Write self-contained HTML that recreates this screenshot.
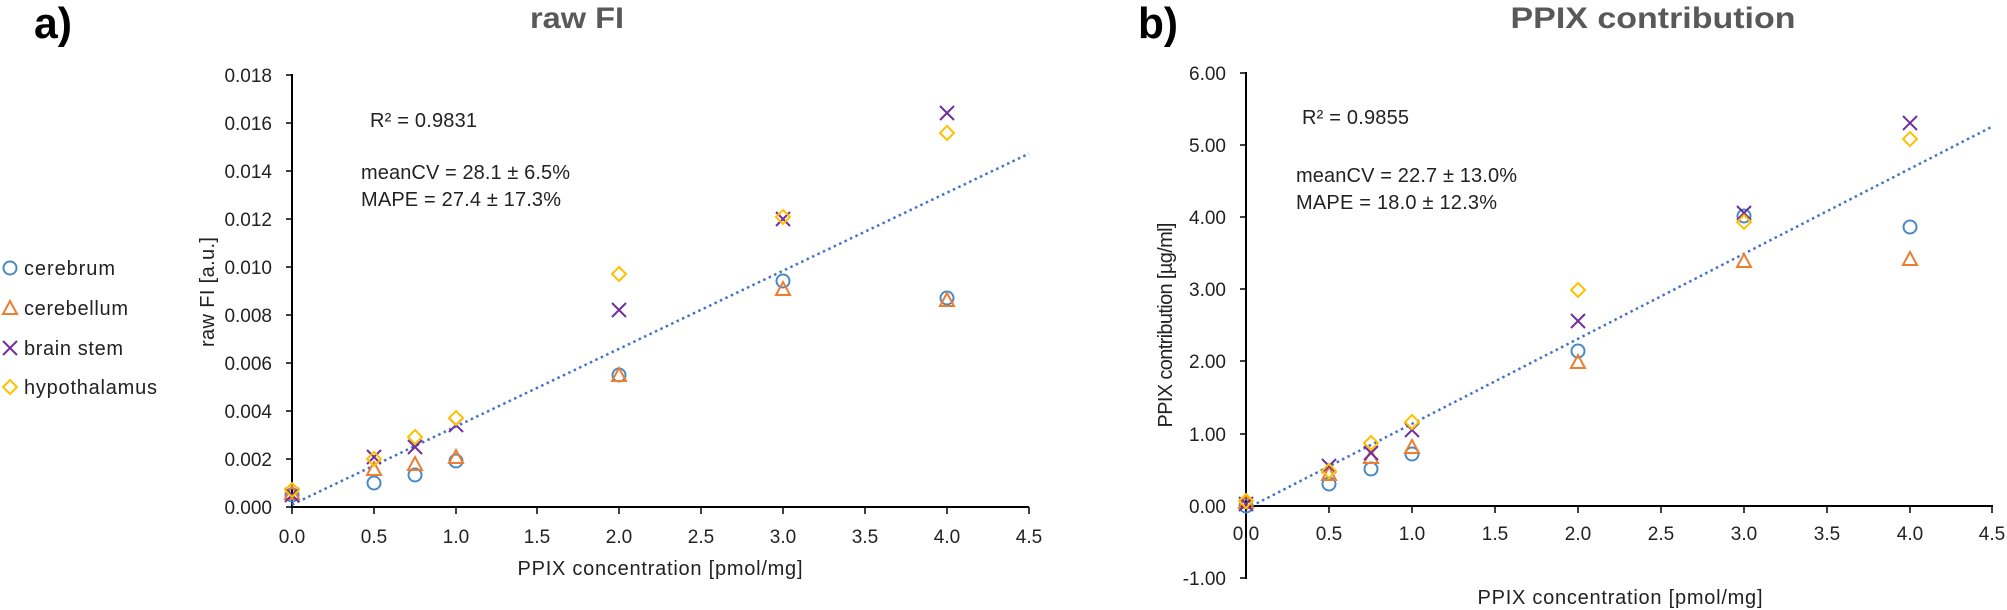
<!DOCTYPE html>
<html><head><meta charset="utf-8"><style>
html,body{margin:0;padding:0;background:#fff;}
svg{display:block;font-family:"Liberation Sans",sans-serif;}
</style></head><body>
<svg width="2007" height="610" viewBox="0 0 2007 610" xmlns="http://www.w3.org/2000/svg">
<defs>
<g id="mC"><circle r="6.5" fill="none" stroke="#4a8ac4" stroke-width="2"/></g>
<g id="mT"><path d="M0,-7 L7,6 L-7,6 Z" fill="none" stroke="#ed7d31" stroke-width="2"/></g>
<g id="mX"><path d="M-7,-7 L7,7 M-7,7 L7,-7" stroke="#7030a0" stroke-width="2" fill="none"/></g>
<g id="mD"><path d="M0,-7 L7,0 L0,7 L-7,0 Z" fill="none" stroke="#ffc000" stroke-width="2"/></g>
</defs>

<text x="34" y="38" font-size="44" font-weight="bold" fill="#000" textLength="38" lengthAdjust="spacingAndGlyphs">a)</text>
<text x="577" y="28" font-size="30" font-weight="bold" fill="#595959" text-anchor="middle" textLength="94" lengthAdjust="spacingAndGlyphs">raw FI</text>

<use href="#mC" x="10" y="268"/><text x="24" y="275" font-size="20" textLength="91" fill="#222">cerebrum</text>
<use href="#mT" x="10" y="308"/><text x="24" y="315" font-size="20" textLength="104" fill="#222">cerebellum</text>
<use href="#mX" x="10" y="348"/><text x="24" y="355" font-size="20" textLength="99" fill="#222">brain stem</text>
<use href="#mD" x="10" y="387"/><text x="24" y="394" font-size="20" textLength="133" fill="#222">hypothalamus</text>

<g stroke="#000" stroke-width="2">
<line x1="292" y1="74" x2="292" y2="507"/>
<line x1="292" y1="507" x2="1029" y2="507"/>
</g>
<g stroke="#000" stroke-width="1.5">
<line x1="286" y1="75" x2="292" y2="75"/><line x1="286" y1="123" x2="292" y2="123"/>
<line x1="286" y1="171" x2="292" y2="171"/><line x1="286" y1="219" x2="292" y2="219"/>
<line x1="286" y1="267" x2="292" y2="267"/><line x1="286" y1="315" x2="292" y2="315"/>
<line x1="286" y1="363" x2="292" y2="363"/><line x1="286" y1="411" x2="292" y2="411"/>
<line x1="286" y1="459" x2="292" y2="459"/><line x1="286" y1="507" x2="292" y2="507"/>
<line x1="292" y1="507" x2="292" y2="514"/><line x1="374" y1="507" x2="374" y2="514"/>
<line x1="456" y1="507" x2="456" y2="514"/><line x1="537" y1="507" x2="537" y2="514"/>
<line x1="619" y1="507" x2="619" y2="514"/><line x1="701" y1="507" x2="701" y2="514"/>
<line x1="783" y1="507" x2="783" y2="514"/><line x1="865" y1="507" x2="865" y2="514"/>
<line x1="947" y1="507" x2="947" y2="514"/><line x1="1029" y1="507" x2="1029" y2="514"/>
</g>
<g font-size="19" fill="#222" text-anchor="end">
<text x="272" y="82">0.018</text><text x="272" y="130">0.016</text><text x="272" y="178">0.014</text>
<text x="272" y="226">0.012</text><text x="272" y="274">0.010</text><text x="272" y="322">0.008</text>
<text x="272" y="370">0.006</text><text x="272" y="418">0.004</text><text x="272" y="466">0.002</text>
<text x="272" y="514">0.000</text>
</g>
<g font-size="19" fill="#222" text-anchor="middle">
<text x="292" y="543">0.0</text><text x="374" y="543">0.5</text><text x="456" y="543">1.0</text>
<text x="537" y="543">1.5</text><text x="619" y="543">2.0</text><text x="701" y="543">2.5</text>
<text x="783" y="543">3.0</text><text x="865" y="543">3.5</text><text x="947" y="543">4.0</text>
<text x="1029" y="543">4.5</text>
</g>
<text x="660" y="575" font-size="20" fill="#222" text-anchor="middle" textLength="285">PPIX concentration [pmol/mg]</text>
<text transform="translate(214,292) rotate(-90)" font-size="20" fill="#222" text-anchor="middle" textLength="110">raw FI [a.u.]</text>
<text x="370" y="127" font-size="20" fill="#222" textLength="107">R² = 0.9831</text>
<text x="361" y="179" font-size="20" fill="#222" textLength="209">meanCV = 28.1 ± 6.5%</text>
<text x="361" y="206" font-size="20" fill="#222" textLength="200">MAPE = 27.4 ± 17.3%</text>

<line x1="292" y1="504.6" x2="1029" y2="153.6" stroke="#4472c4" stroke-width="2.5" stroke-dasharray="2.5 3.5"/>

<g>
<use href="#mC" x="292" y="495"/><use href="#mC" x="374" y="483"/><use href="#mC" x="415" y="475"/><use href="#mC" x="456" y="461"/>
<use href="#mC" x="619" y="375"/><use href="#mC" x="783" y="281"/><use href="#mC" x="947" y="298"/>
<use href="#mT" x="292" y="493"/><use href="#mT" x="374" y="469"/><use href="#mT" x="415" y="464"/><use href="#mT" x="456" y="457"/>
<use href="#mT" x="619" y="375"/><use href="#mT" x="783" y="289"/><use href="#mT" x="947" y="300"/>
<use href="#mX" x="292" y="495"/><use href="#mX" x="374" y="457"/><use href="#mX" x="415" y="447"/><use href="#mX" x="456" y="425"/>
<use href="#mX" x="619" y="310"/><use href="#mX" x="783" y="219"/><use href="#mX" x="947" y="113"/>
<use href="#mD" x="292" y="490"/><use href="#mD" x="374" y="459"/><use href="#mD" x="415" y="437"/><use href="#mD" x="456" y="418"/>
<use href="#mD" x="619" y="274"/><use href="#mD" x="783" y="217"/><use href="#mD" x="947" y="133"/>
</g>

<text x="1138" y="38" font-size="44" font-weight="bold" fill="#000" textLength="40" lengthAdjust="spacingAndGlyphs">b)</text>
<text x="1653" y="28" font-size="30" font-weight="bold" fill="#595959" text-anchor="middle" textLength="285" lengthAdjust="spacingAndGlyphs">PPIX contribution</text>

<g stroke="#000" stroke-width="2">
<line x1="1246" y1="72" x2="1246" y2="579"/>
<line x1="1246" y1="506" x2="1993" y2="506"/>
</g>
<g stroke="#000" stroke-width="1.5">
<line x1="1240" y1="73" x2="1246" y2="73"/><line x1="1240" y1="145" x2="1246" y2="145"/>
<line x1="1240" y1="217" x2="1246" y2="217"/><line x1="1240" y1="289" x2="1246" y2="289"/>
<line x1="1240" y1="361" x2="1246" y2="361"/><line x1="1240" y1="434" x2="1246" y2="434"/>
<line x1="1240" y1="506" x2="1246" y2="506"/><line x1="1240" y1="578" x2="1246" y2="578"/>
<line x1="1329" y1="506" x2="1329" y2="513"/><line x1="1412" y1="506" x2="1412" y2="513"/>
<line x1="1495" y1="506" x2="1495" y2="513"/><line x1="1578" y1="506" x2="1578" y2="513"/>
<line x1="1661" y1="506" x2="1661" y2="513"/><line x1="1744" y1="506" x2="1744" y2="513"/>
<line x1="1827" y1="506" x2="1827" y2="513"/><line x1="1910" y1="506" x2="1910" y2="513"/>
<line x1="1992" y1="506" x2="1992" y2="513"/>
</g>
<g font-size="19" fill="#222" text-anchor="end">
<text x="1226" y="80">6.00</text><text x="1226" y="152">5.00</text><text x="1226" y="224">4.00</text>
<text x="1226" y="296">3.00</text><text x="1226" y="368">2.00</text><text x="1226" y="441">1.00</text>
<text x="1226" y="513">0.00</text><text x="1226" y="585">-1.00</text>
</g>
<g font-size="19" fill="#222" text-anchor="middle">
<text x="1246" y="540">0.0</text><text x="1329" y="540">0.5</text><text x="1412" y="540">1.0</text>
<text x="1495" y="540">1.5</text><text x="1578" y="540">2.0</text><text x="1661" y="540">2.5</text>
<text x="1744" y="540">3.0</text><text x="1827" y="540">3.5</text><text x="1910" y="540">4.0</text>
<text x="1992" y="540">4.5</text>
</g>
<text x="1620" y="604" font-size="20" fill="#222" text-anchor="middle" textLength="285">PPIX concentration [pmol/mg]</text>
<text transform="translate(1172,325) rotate(-90)" font-size="20" fill="#222" text-anchor="middle" textLength="205">PPIX contribution [µg/ml]</text>
<text x="1302" y="124" font-size="20" fill="#222" textLength="107">R² = 0.9855</text>
<text x="1296" y="182" font-size="20" fill="#222" textLength="221">meanCV = 22.7 ± 13.0%</text>
<text x="1296" y="209" font-size="20" fill="#222" textLength="201">MAPE = 18.0 ± 12.3%</text>

<line x1="1246" y1="508.9" x2="1992" y2="126.7" stroke="#4472c4" stroke-width="2.5" stroke-dasharray="2.5 3.5"/>

<g>
<use href="#mC" x="1246" y="506"/><use href="#mC" x="1329" y="484"/><use href="#mC" x="1371" y="469"/><use href="#mC" x="1412" y="454"/>
<use href="#mC" x="1578" y="351"/><use href="#mC" x="1744" y="216"/><use href="#mC" x="1910" y="227"/>
<use href="#mT" x="1246" y="502"/><use href="#mT" x="1329" y="474"/><use href="#mT" x="1371" y="457"/><use href="#mT" x="1412" y="447"/>
<use href="#mT" x="1578" y="362"/><use href="#mT" x="1744" y="261"/><use href="#mT" x="1910" y="259"/>
<use href="#mX" x="1246" y="504"/><use href="#mX" x="1329" y="466"/><use href="#mX" x="1371" y="453"/><use href="#mX" x="1412" y="430"/>
<use href="#mX" x="1578" y="321"/><use href="#mX" x="1744" y="213"/><use href="#mX" x="1910" y="123"/>
<use href="#mD" x="1246" y="501"/><use href="#mD" x="1329" y="471"/><use href="#mD" x="1371" y="443"/><use href="#mD" x="1412" y="422"/>
<use href="#mD" x="1578" y="290"/><use href="#mD" x="1744" y="222"/><use href="#mD" x="1910" y="139"/>
</g>
</svg>
</body></html>
